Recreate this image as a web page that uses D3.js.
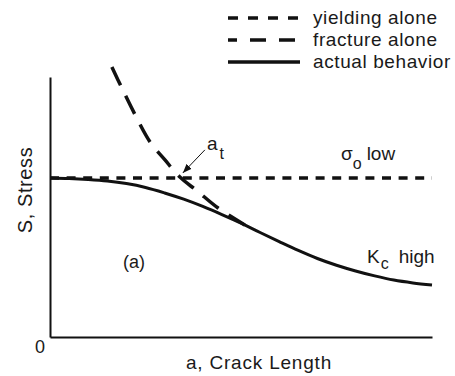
<!DOCTYPE html>
<html>
<head>
<meta charset="utf-8">
<script src="https://cdn.jsdelivr.net/npm/d3@7/dist/d3.min.js"></script>
<style>
  html, body { margin: 0; padding: 0; background: #fff; }
  svg text { font-family: "Liberation Sans", Arial, Helvetica, sans-serif; fill: #1a1a1a; }
</style>
</head>
<body>
<svg id="chart" width="455" height="376"></svg>
<script>
// Crack length (arbitrary units) and stress levels for the three behaviours
const yieldA = [0, 100];
const yieldS = [61.2, 61.2];

const fractureA = [16.2, 18.8, 22.3, 26.2, 30.1, 34.0, 38.5, 44.0, 51.0];
const fractureS = [103.8, 95.8, 85.4, 75.0, 68.1, 61.5, 56.2, 49.6, 43.1];

const actualA = [0, 5, 10, 15, 20, 25, 30, 35, 40, 45, 50, 55, 60, 65, 70, 75, 80, 85, 90, 95, 100];
const actualS = [61.2, 61.0, 60.6, 60.0, 59.0, 57.5, 55.4, 53.0, 50.2, 47.1, 43.8, 40.2, 36.7, 33.3, 30.2, 27.6, 25.4, 23.5, 21.9, 20.8, 20.0];

// Transition crack length, where the fracture curve meets the yield line
const transitionA = 34.0;
const transitionS = 61.2;

const legendLabels = ["yielding alone", "fracture alone", "actual behavior"];
const xTitle = "a, Crack Length";
const yTitle = "S, Stress";
const originLabel = "0";

const svg = d3.select("#chart");
const ink = "#111";

const x = d3.scaleLinear().domain([0, 100]).range([50, 432]);
const y = d3.scaleLinear().domain([0, 100]).range([337, 77]);

const zip = (as, ss) => as.map((a, i) => ({ a, s: ss[i] }));
const line = d3.line().x(d => x(d.a)).y(d => y(d.s)).curve(d3.curveCatmullRom.alpha(0.5));

// Axes: plain lines without ticks
const xAxis = d3.axisBottom(x).tickValues([]).tickSizeOuter(0);
const yAxis = d3.axisLeft(y).tickValues([]).tickSizeOuter(0);
svg.append("g").attr("transform", `translate(0,${y(0)})`).call(xAxis)
  .select(".domain").attr("stroke", ink).attr("stroke-width", 2);
svg.append("g").attr("transform", `translate(${x(0)},0)`).call(yAxis)
  .select(".domain").attr("stroke", ink).attr("stroke-width", 2);

// Yield line
svg.append("path").datum(zip(yieldA, yieldS))
  .attr("d", d3.line().x(d => x(d.a)).y(d => y(d.s)))
  .attr("fill", "none").attr("stroke", ink).attr("stroke-width", 3.5)
  .attr("stroke-dasharray", "9,7.6");

// Fracture curve
svg.append("path").datum(zip(fractureA, fractureS))
  .attr("d", line)
  .attr("fill", "none").attr("stroke", ink).attr("stroke-width", 3.5)
  .attr("stroke-dasharray", "20,12");

// Actual behaviour
svg.append("path").datum(zip(actualA, actualS))
  .attr("d", line)
  .attr("fill", "none").attr("stroke", ink).attr("stroke-width", 3);

// Axis titles
svg.append("text").attr("x", 259).attr("y", 369).attr("text-anchor", "middle")
  .attr("font-size", 19).attr("letter-spacing", 0.8).text(xTitle);
svg.append("text").attr("transform", "translate(32,190) rotate(-90)")
  .attr("text-anchor", "middle").attr("font-size", 20).attr("letter-spacing", 0.6).text(yTitle);
svg.append("text").attr("x", 40).attr("y", 353).attr("text-anchor", "middle")
  .attr("font-size", 18).text(originLabel);

// Annotations
svg.append("text").attr("x", 134).attr("y", 268).attr("text-anchor", "middle")
  .attr("font-size", 18).text("(a)");

const defs = svg.append("defs");
defs.append("marker").attr("id", "arrow").attr("viewBox", "0 0 10 10")
  .attr("refX", 10).attr("refY", 5).attr("markerWidth", 9).attr("markerHeight", 9)
  .attr("markerUnits", "userSpaceOnUse").attr("orient", "auto")
  .append("path").attr("d", "M0,1 L10,5 L0,9 Z").attr("fill", ink);

const tipX = x(transitionA) + 3, tipY = y(transitionS) - 5;
svg.append("line").attr("x1", tipX + 22).attr("y1", tipY - 23)
  .attr("x2", tipX).attr("y2", tipY)
  .attr("stroke", ink).attr("stroke-width", 1).attr("marker-end", "url(#arrow)");

const at = svg.append("text").attr("x", 207).attr("y", 150).attr("font-size", 19);
at.append("tspan").text("a");
at.append("tspan").attr("dx", 2).attr("dy", 9).attr("font-size", 16).text("t");

const sl = svg.append("text").attr("x", 341).attr("y", 160).attr("font-size", 19);
sl.append("tspan").text("σ");
sl.append("tspan").attr("dy", 9).attr("font-size", 16).text("o");
sl.append("tspan").attr("dx", 5).attr("dy", -9).text("low");

const kh = svg.append("text").attr("x", 367).attr("y", 263).attr("font-size", 19);
kh.append("tspan").text("K");
kh.append("tspan").attr("dx", 1).attr("dy", 6).attr("font-size", 16).text("c");
kh.append("tspan").attr("dx", 10).attr("dy", -6).text("high");

// Legend
const legendStyles = [
  { dash: "10,10", offset: 0 },
  { dash: "16,13", offset: 7 },
  { dash: null, offset: 0 }
];
const legendY = [18, 40, 62];
legendLabels.forEach((label, i) => {
  const st = legendStyles[i];
  const l = svg.append("line").attr("x1", 228).attr("x2", 300)
    .attr("y1", legendY[i]).attr("y2", legendY[i])
    .attr("stroke", ink).attr("stroke-width", 3.5);
  if (st.dash) l.attr("stroke-dasharray", st.dash).attr("stroke-dashoffset", st.offset);
  svg.append("text").attr("x", 313).attr("y", legendY[i] + 6)
    .attr("font-size", 19).attr("letter-spacing", 0.6).text(label);
});
</script>
</body>
</html>
